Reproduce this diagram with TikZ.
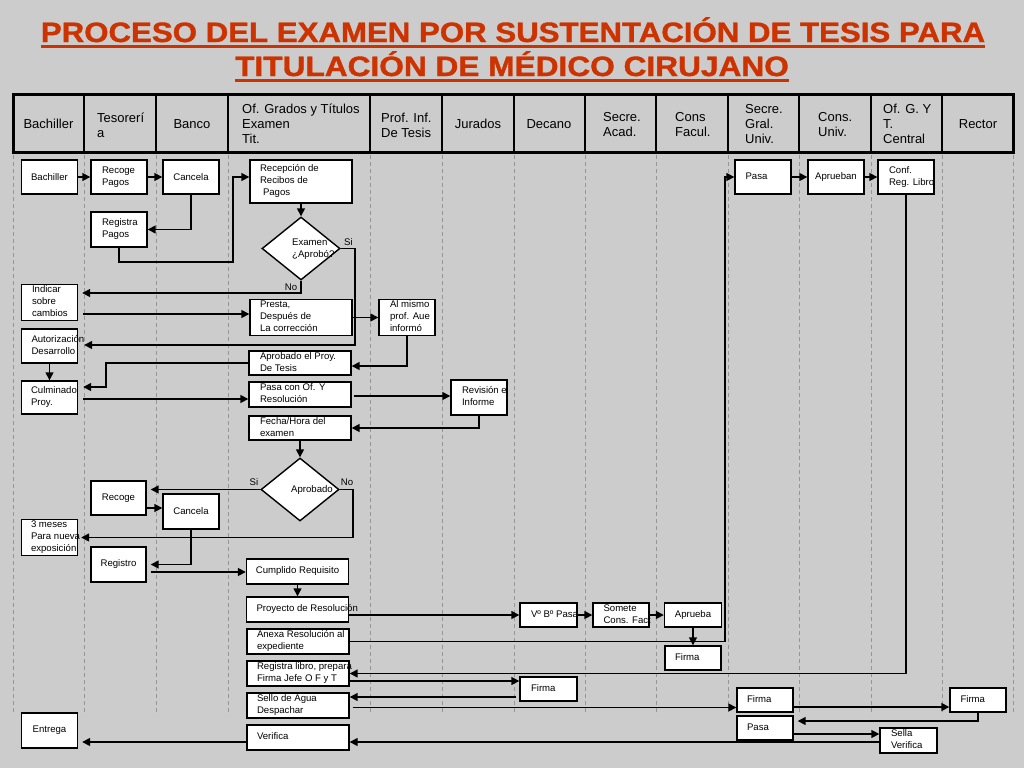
\documentclass[tikz,border=0pt]{standalone}
\usepackage{graphicx}
\usepackage{fontspec}
\setmainfont{Liberation Sans}
\newfontfamily\ttlfont[FakeBold=1.2]{Liberation Sans Bold}
\usetikzlibrary{shapes.geometric,arrows.meta}
\definecolor{bgc}{RGB}{204,204,204}
\definecolor{lanec}{RGB}{150,150,150}
\definecolor{titlec}{RGB}{204,51,0}
\newcommand{\bxt}[2]{\makebox[#1][l]{\begin{tabular}{@{}l@{}}#2\end{tabular}}}
\begin{document}
\begin{tikzpicture}[x=1pt,y=-1pt,
 box/.style={draw=black, fill=white, line width=1.4pt, inner ysep=0pt, font=\fontsize{9.6}{12}\selectfont},
 cbox/.style={box, inner xsep=0pt, align=center},
 lbox/.style={box, inner xsep=#1},
 arr/.style={line width=1.5pt, -{Triangle[length=8pt,width=8pt]}},
 hd/.style={font=\fontsize{13}{15}\selectfont, align=left, inner sep=0pt},
 lbl/.style={font=\fontsize{9.6}{12}\selectfont, inner sep=0pt, align=left},
 lane/.style={draw=lanec, line width=0.9pt, dash pattern=on 4pt off 3pt},
 dia/.style={diamond, draw=black, fill=white, line width=1.4pt, inner sep=0pt},
 ttl/.style={font=\fontsize{28}{30}\selectfont\ttlfont, text=titlec, inner sep=0pt, anchor=base}
]
% background
\fill[bgc] (0,0) rectangle (1024,768);

% title
\node[ttl] (t1) at (513,42) {\scalebox{1.115}[1]{PROCESO DEL EXAMEN POR SUSTENTACIÓN DE TESIS PARA}};
\node[ttl] (t2) at (512,76) {\scalebox{1.13}[1]{TITULACIÓN DE MÉDICO CIRUJANO}};
\draw[titlec, line width=2.2pt] ([yshift=-4.5pt]t1.base west) -- ([yshift=-4.5pt]t1.base east);
\draw[titlec, line width=2.2pt] ([yshift=-4.5pt]t2.base west) -- ([yshift=-4.5pt]t2.base east);

% lanes
\foreach \x in {13.5,84,156,228,370,442,514,585,656,728,799,871,942,1013}
  \draw[lane] (\x,155) -- (\x,715);

% header
\draw[line width=3.5pt] (13.5,94.5) rectangle (1013.5,152.5);
\foreach \x in {84,156,228,370,442,514,585,656,728,799,871,942}
  \draw[line width=1.5pt] (\x,94.5) -- (\x,152.5);
\node[hd] (h1) at (48.5,124) {Bachiller};
\node[hd, anchor=west] (h2) at (97,125) {Tesorerí\\a};
\node[hd] (h3) at (192,124) {Banco};
\node[hd, anchor=west] (h4) at (242,124) {Of. Grados y Títulos\\Examen\\Tit.};
\node[hd, anchor=west] (h5) at (381,125) {Prof. Inf.\\De Tesis};
\node[hd] (h6) at (478,124) {Jurados};
\node[hd] (h7) at (549,124) {Decano};
\node[hd, anchor=west] (h8) at (603,125) {Secre.\\Acad.};
\node[hd, anchor=west] (h9) at (675,125) {Cons\\Facul.};
\node[hd, anchor=west] (h10) at (745,124) {Secre.\\Gral.\\Univ.};
\node[hd, anchor=west] (h11) at (818,125) {Cons.\\Univ.};
\node[hd, anchor=west] (h12) at (883,124) {Of. G. Y\\T.\\Central};
\node[hd] (h13) at (978,124) {Rector};

% boxes
\node[cbox, minimum width=56pt, minimum height=34pt] (bach) at (49.5,177) {Bachiller};
\node[lbox=11pt, minimum width=56pt, minimum height=34pt] (recp) at (119,177) {\bxt{34pt}{Recoge\\Pagos}};
\node[cbox, minimum width=56pt, minimum height=34pt] (canc1) at (191,177) {Cancela};
\node[lbox=11pt, minimum width=56pt, minimum height=35pt] (regp) at (119,229.5) {\bxt{34pt}{Registra\\Pagos}};
\node[lbox=10pt, minimum width=102pt, minimum height=43pt] (recep) at (301,181.5) {\bxt{82pt}{Recepción de\\Recibos de\\\hspace{3pt}Pagos}};
\node[dia, minimum width=78pt, minimum height=63pt] (dia1) at (301,248.5) {};
\node[lbl, anchor=west] (dia1t) at (292,249.5) {Examen\\¿Aprobó?};
\node[lbl] (si1) at (348.5,242) {Si};
\node[lbl] (no1) at (291,287) {No};

\node[lbox=10.5pt, minimum width=56pt, minimum height=35pt] (indic) at (49.5,302.5) {\bxt{35pt}{Indicar\\sobre\\cambios}};
\node[lbox=10pt, minimum width=102pt, minimum height=33pt] (presta) at (301,317.5) {\bxt{82pt}{Presta,\\Después de\\La corrección}};
\node[lbox=11pt, minimum width=56pt, minimum height=33pt] (almismo) at (407,317.5) {\bxt{34pt}{Al mismo\\prof. Aue\\informó}};
\node[lbox=10pt, minimum width=56pt, minimum height=34pt] (autor) at (49.5,346) {\bxt{36pt}{Autorización\\Desarrollo}};
\node[lbox=11pt, minimum width=102pt, minimum height=24pt] (aprob) at (300,363) {\bxt{80pt}{Aprobado el Proy.\\De Tesis}};
\node[lbox=9.5pt, minimum width=56pt, minimum height=33pt] (culm) at (49.5,397.5) {\bxt{37pt}{Culminado\\Proy.}};
\node[lbox=11pt, minimum width=102pt, minimum height=25pt] (pasaof) at (300,394.5) {\bxt{80pt}{Pasa con Of. Y\\Resolución}};
\node[lbox=11pt, minimum width=56pt, minimum height=35pt] (revis) at (479,397.5) {\bxt{34pt}{Revisión e\\Informe}};
\node[lbox=11pt, minimum width=102pt, minimum height=24pt] (fecha) at (300,428) {\bxt{80pt}{Fecha/Hora del\\examen}};

\node[dia, minimum width=78pt, minimum height=63pt] (dia2) at (300,489.5) {};
\node[lbl, anchor=west] (dia2t) at (291,490) {Aprobado};
\node[lbl] (si2) at (254,482) {Si};
\node[lbl] (no2) at (347,482) {No};

\node[cbox, minimum width=55pt, minimum height=34pt] (recoge2) at (118.5,498) {Recoge};
\node[cbox, minimum width=56pt, minimum height=35pt] (canc2) at (191,511.5) {Cancela};
\node[lbox=9.5pt, minimum width=56pt, minimum height=35pt] (tres) at (49.5,537.5) {\bxt{37pt}{3 meses\\Para nueva\\exposición}};
\node[cbox, minimum width=55pt, minimum height=35pt] (regis) at (118.5,564.5) {Registro};
\node[cbox, minimum width=102pt, minimum height=25pt] (cumpl) at (297.5,571.5) {Cumplido Requisito};
\node[lbox=10pt, minimum width=102pt, minimum height=25pt] (proy) at (297.5,609.5) {\bxt{82pt}{Proyecto de Resolución}};
\node[lbox=10pt, minimum width=102pt, minimum height=25pt] (anexa) at (298,641.5) {\bxt{82pt}{Anexa Resolución al\\expediente}};
\node[lbox=10pt, minimum width=102pt, minimum height=25pt] (regl) at (298,673.5) {\bxt{82pt}{Registra libro, prepara\\Firma Jefe O F y T}};
\node[lbox=10pt, minimum width=102pt, minimum height=25pt] (sello) at (298,705.5) {\bxt{82pt}{Sello de Agua\\Despachar}};
\node[lbox=10pt, minimum width=102pt, minimum height=25pt] (verif) at (298,737.5) {\bxt{82pt}{Verifica}};
\node[cbox, minimum width=56pt, minimum height=35pt] (entrega) at (49.5,730.5) {Entrega};

\node[lbox=11pt, minimum width=57pt, minimum height=24pt] (vobo) at (548.5,615) {\bxt{35pt}{Vº Bº Pasa}};
\node[lbox=10.5pt, minimum width=56pt, minimum height=24pt] (somete) at (621,615) {\bxt{35pt}{Somete\\Cons. Fact}};
\node[cbox, minimum width=57pt, minimum height=24pt] (aprueba) at (693,615) {Aprueba};
\node[lbox=10pt, minimum width=56pt, minimum height=24pt] (firmacf) at (693,658) {\bxt{36pt}{Firma}};
\node[lbox=11pt, minimum width=57pt, minimum height=24pt] (firmadec) at (548.5,689) {\bxt{35pt}{Firma}};
\node[lbox=10pt, minimum width=56pt, minimum height=24pt] (firmasg) at (765,700) {\bxt{36pt}{Firma}};
\node[lbox=10pt, minimum width=56pt, minimum height=24pt] (pasasg) at (765,728) {\bxt{36pt}{Pasa}};
\node[lbox=11pt, minimum width=57pt, minimum height=25pt] (sella) at (908.5,740.5) {\bxt{35pt}{Sella\\Verifica}};
\node[lbox=10.5pt, minimum width=56pt, minimum height=24pt] (firmar) at (978,700) {\bxt{35pt}{Firma}};

\node[lbox=10.5pt, minimum width=56pt, minimum height=34pt] (pasatop) at (763,177) {\bxt{35pt}{Pasa}};
\node[cbox, minimum width=56pt, minimum height=34pt] (aprueban) at (836,177) {Aprueban};
\node[lbox=11pt, minimum width=56pt, minimum height=34pt] (conf) at (906,177) {\bxt{34pt}{Conf.\\Reg. Libro}};

% connectors
\draw[arr] (bach.east) -- (recp.west);
\draw[arr] (recp.east) -- (canc1.west);
\draw[arr] (canc1.south) |- (regp.east);
\draw[arr] (regp.south) |- (233,262) |- ([yshift=4.5pt]recep.west);
\draw[arr] (recep.south) -- (dia1.north);
\draw[arr] (dia1.east) -| (355,345) -- ([xshift=6pt,yshift=1pt]autor.east);
\draw[arr] (dia1.south) |- ([xshift=4pt,yshift=9.5pt]indic.east);
\draw[arr] ([xshift=5pt,yshift=-11.5pt]indic.east) -- ([yshift=-11.5pt]indic.east -| presta.west);
\draw[arr] (presta.east) -- (almismo.west);
\draw[arr] (almismo.south) |- ([yshift=-3pt]aprob.east);
\draw[arr] (aprob.west) -| (106,387) -- ([xshift=5pt,yshift=10.5pt]culm.east);
\draw[arr] (autor.south) -- (culm.north);
\draw[arr] ([xshift=5pt,yshift=-1.5pt]culm.east) -- ([yshift=-1.5pt]culm.east -| pasaof.west);
\draw[arr] ([xshift=2pt,yshift=-1.5pt]pasaof.east) -- ([yshift=-1.5pt]pasaof.east -| revis.west);
\draw[arr] (revis.south) |- (fecha.east);
\draw[arr] (fecha.south) -- (dia2.north);
\draw[arr] (dia2.west) -- ([xshift=4pt]dia2.west -| recoge2.east);
\draw[arr] ([yshift=-10pt]recoge2.east) -- ([yshift=-10pt]recoge2.east -| canc2.west);
\draw[arr] (dia2.east) -| (353,537.5) -- ([xshift=3pt]tres.east);
\draw[arr] (canc2.south) |- ([xshift=4pt]regis.east);
\draw[arr] ([xshift=4pt,yshift=-7.5pt]regis.east) -- ([yshift=-7.5pt]regis.east -| cumpl.west);
\draw[arr] (cumpl.south) -- (proy.north);
\draw[arr] ([yshift=-5.5pt]proy.east) -- ([yshift=-5.5pt]proy.east -| vobo.west);
\draw[arr] (vobo.east) -- (somete.west);
\draw[arr] (somete.east) -- (aprueba.west);
\draw[arr] (aprueba.south) -- (firmacf.north);
\draw[arr] (anexa.east) -| (725,177) -- (pasatop.west);
\draw[arr] (pasatop.east) -- (aprueban.west);
\draw[arr] (aprueban.east) -- (conf.west);
\draw[arr] (conf.south) |- (regl.east);
\draw[arr] ([yshift=-7.5pt]regl.east) -- ([yshift=-7.5pt]regl.east -| firmadec.west);
\draw[arr] ([xshift=-3pt,yshift=-8pt]firmadec.west) -- ([yshift=-8pt]firmadec.west -| sello.east);
\draw[arr] ([xshift=3pt,yshift=-2pt]sello.east) -- ([yshift=-2pt]sello.east -| firmasg.west);
\draw[arr] ([yshift=-7pt]firmasg.east) -- ([yshift=-7pt]firmasg.east -| firmar.west);
\draw[arr] (firmar.south) |- ([xshift=4pt,yshift=7pt]pasasg.east);
\draw[arr] ([yshift=-6pt]pasasg.east) -- ([yshift=-6pt]pasasg.east -| sella.west);
\draw[arr] ([yshift=-1.5pt]sella.west) -- ([yshift=-1.5pt]sella.west -| verif.east);
\draw[arr] ([yshift=-4.5pt]verif.west) -- ([xshift=4pt,yshift=-4.5pt]verif.west -| entrega.east);
\end{tikzpicture}
\end{document}
